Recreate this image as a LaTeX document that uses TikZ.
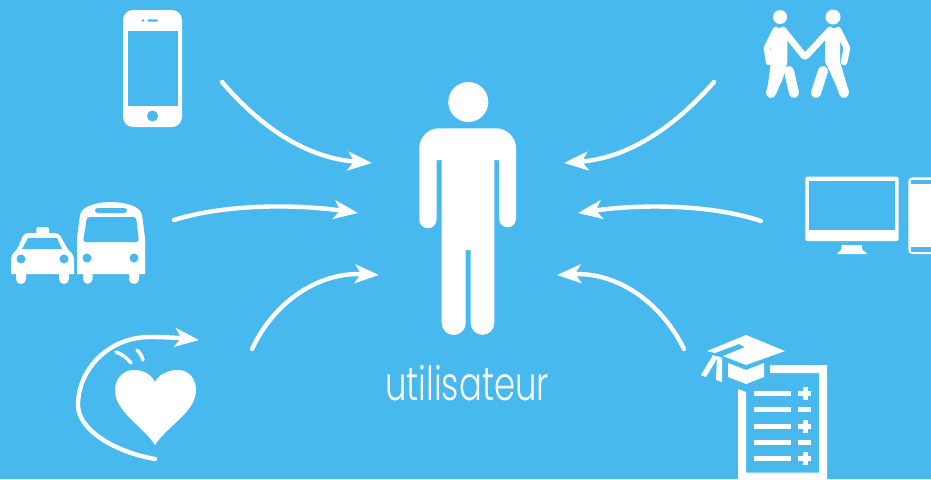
\documentclass[tikz,border=0pt]{standalone}
\usepackage{fontspec}
\usetikzlibrary{arrows.meta}
\newfontfamily\labfont{Poppins Light}
\definecolor{sky}{HTML}{48B9EE}
\tikzset{
  ink/.style={fill=white,draw=none},
  hole/.style={fill=sky,draw=none},
  flow/.style={draw=white,line width=3.3pt,line cap=round,-{Stealth[length=18pt,width=14pt,inset=4.5pt]}},
  stroke/.style={draw=white,line cap=round,line join=round},
  rule/.style={fill=white,draw=none},
}
\begin{document}
\begin{tikzpicture}[x=0.75pt,y=-0.75pt]
\useasboundingbox (0,0) rectangle (931,479);
\fill[sky] (0,0) rectangle (931,479);
% connector ends
\coordinate (a1s) at (222,82);  \coordinate (a1e) at (372,163);
\coordinate (a2s) at (174,220); \coordinate (a2e) at (358,213);
\coordinate (a3s) at (252,349); \coordinate (a3e) at (379,275);
\coordinate (a4s) at (714,82);  \coordinate (a4e) at (564,163);
\coordinate (a5s) at (761,221); \coordinate (a5e) at (578,213);
\coordinate (a6s) at (684,349); \coordinate (a6e) at (557,275);
\coordinate (hs) at (155,459);  \coordinate (hl) at (78,405); \coordinate (ht) at (150,337); \coordinate (he) at (199,340);
\draw[flow] (a1s) .. controls (265,132) and (310,158) .. (a1e);
\draw[flow] (a2s) .. controls (225,204) and (295,204) .. (a2e);
\draw[flow] (a3s) .. controls (275,300) and (320,272) .. (a3e);
\draw[flow] (a4s) .. controls (670,132) and (625,158) .. (a4e);
\draw[flow] (a5s) .. controls (710,204) and (640,204) .. (a5e);
\draw[flow] (a6s) .. controls (660,300) and (615,272) .. (a6e);
% person
\fill[ink] (468.3,102) circle (20);
\fill[ink] (439,128.3) -- (496,128.3) arc (-90:0:20) -- (516,218.8) arc (0:180:8.5) -- (499,160) -- (494.3,160)
  -- (494.3,323) arc (0:180:11.8) -- (470.7,250) -- (465.7,250) -- (465.7,323) arc (0:180:12)
  -- (441.7,160) -- (436.5,160) -- (436.5,219.7) arc (0:180:8.6) -- (419.3,148) arc (180:270:19.7) -- cycle;
\node[text=white,font=\labfont\fontsize{27}{27}\selectfont,anchor=base,xscale=0.94,yscale=1.3,inner sep=0pt] (label) at (467,400) {utilisateur};
% phone
\fill[ink,rounded corners=7.5] (123,10) rectangle (182,127);
\fill[hole] (127.5,30.5) rectangle (177.5,106);
\fill[hole] (152.5,116) circle (5.5);
\fill[hole] (143,20.5) circle (1.4);
\fill[hole,rounded corners=0.8] (147.3,19.4) rectangle (158,21.6);
% taxi
\fill[ink] (36.3,233) [rounded corners=1] -- (36.3,227) -- (49,227) [sharp corners] -- (49,233) -- (54,233) [rounded corners=3] -- (59,233) -- (68,250) -- (74,255) [sharp corners] -- (74,274) -- (69,274) -- (69,279) arc (0:180:5) -- (59,274) -- (26,274) -- (26,279) arc (0:180:5) -- (16,274) -- (11,274) [rounded corners=3] -- (11,255) -- (17,250) -- (24,233) [sharp corners] -- cycle;
\fill[hole] (28,238) -- (57,238) -- (62,249) -- (22,249) -- cycle;
\fill[hole] (21,259) circle (4.5);
\fill[hole] (64,259) circle (4.5);
% bus
\fill[ink] (77,274) -- (77,238) -- (80,215) .. controls (82,205) and (100,202) .. (111,202) .. controls (122,202) and (140,205) .. (142,215) -- (145,238) -- (145,274) -- (139,274) -- (139,279) arc (0:180:5) -- (129,274) -- (92.5,274) -- (92.5,279) arc (0:180:4.75) -- (83,274) -- cycle;
\fill[hole,rounded corners=2] (87,217) -- (136,217) -- (139,242) -- (83,242) -- cycle;
\fill[hole,rounded corners=2] (95,208) rectangle (127,213);
\fill[hole] (87,258) circle (4.5);
\fill[hole] (134,258) circle (4.5);
% heart
\fill[ink] (155,382) .. controls (160,372) and (172,370) .. (178,370) .. controls (190,370) and (196,380) .. (196,390) .. controls (196,412) and (168,425) .. (155,445) .. controls (142,425) and (115,412) .. (115,390) .. controls (115,380) and (122,370) .. (134,370) .. controls (140,370) and (150,372) .. (155,382) -- cycle;
\draw[flow] (hs) .. controls (115,452) and (78,430) .. (hl) .. controls (78,370) and (108,337) .. (ht) .. controls (165,337) and (180,338) .. (he);
\draw[stroke,line width=2.6pt] (116,352) .. controls (122,354) and (127,358) .. (131,363);
\draw[stroke,line width=2.6pt] (137,350) .. controls (140,353) and (142,356) .. (143,360);
% walkers
\fill[ink] (780,17) circle (7);
\fill[ink] (833,17) circle (7.5);
\draw[stroke,line width=5pt] (776,30) -- (767,48) -- (769,62);
\draw[stroke,line width=5pt] (783,30) -- (804,56) -- (806,56) -- (830,30);
\draw[stroke,line width=5pt] (838,30) -- (847,48) -- (844,62);
\fill[ink] (774,28) -- (785,28) -- (787.3,35) -- (787.3,62) -- (783,78) -- (776,94) -- (767,92) -- (771,62) -- (771,38) -- cycle;
\fill[ink] (828,28) -- (838,28) -- (840,38) -- (840,62) -- (849,92) -- (840,94) -- (829,70) -- (825,62) -- (825,35) -- cycle;
\draw[stroke,line width=7.5pt] (779,62) -- (771,93);
\draw[stroke,line width=7.5pt] (789,71) -- (794,93);
\draw[stroke,line width=7.5pt] (834,62) -- (844,93);
\draw[stroke,line width=7.5pt] (823,71) -- (816,93);
% monitor
\fill[ink,rounded corners=1.5] (805.3,176.7) rectangle (898.7,241);
\fill[hole] (809,181) rectangle (895,230);
\fill[ink] (841.7,245) -- (861.7,245) -- (862.5,250) -- (867.7,254) -- (836.7,254) -- (841,250) -- cycle;
% tablet
\fill[ink,rounded corners=3] (908.3,177.3) rectangle (945,254);
\fill[hole] (911,180) rectangle (931,183.5);
\fill[hole] (911,247.3) rectangle (931,251.5);
% cap
\fill[ink] (746,335) -- (785,351) -- (746,365) -- (723,356) -- (745,347) -- (739,344) -- (715,353) -- (707,351) -- cycle;
\fill[ink] (728,363) -- (746,370) -- (764,363) -- (764,377) -- (746,384) -- (728,377) -- cycle;
\fill[ink] (713,355) -- (718,357) -- (706,377) -- (701,375) -- cycle;
\fill[ink] (717,356) -- (722,358) -- (722,382) -- (716,380) -- cycle;
% sheet
\fill[ink] (770,365) -- (827,365) -- (827,479) -- (738,479) -- (738,389) -- (746,392) -- (746,472.7) -- (819,472.7) -- (819,373) -- (770,373) -- cycle;
\foreach \y/\s in {393.7/1,409.5/0,426.5/1,442.5/0,458.5/1}{
  \fill[rule] (754,\y-2.6) rectangle (791,\y+2.6);
  \fill[rule] (798,\y-2.4) rectangle (811,\y+2.4);
  \ifnum\s=1 \fill[rule] (802.5,\y-6.5) rectangle (807.5,\y+6.5);\fi
}
\end{tikzpicture}
\end{document}
